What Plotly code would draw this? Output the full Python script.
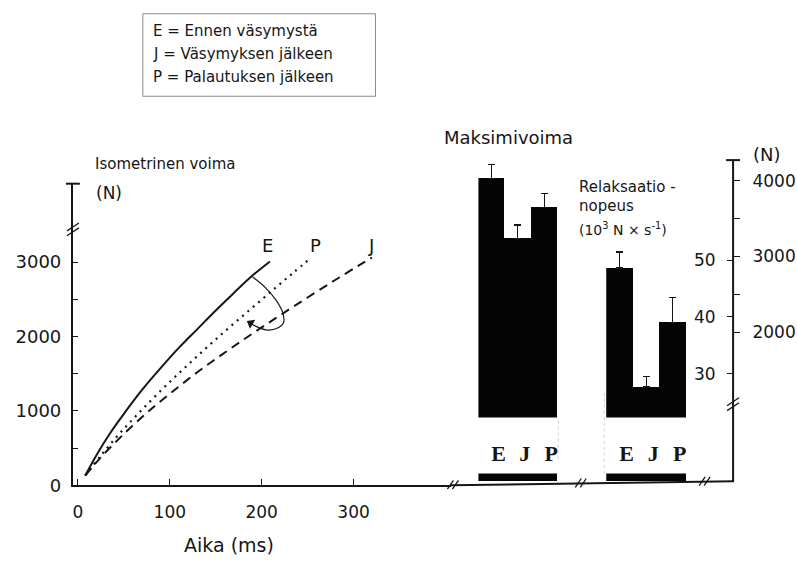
import plotly.graph_objects as go

# ---- data -------------------------------------------------------------
# Isometric force-time curves (ms, N)
time_E = [8, 20, 35, 50, 70, 90, 110, 130, 150, 170, 190, 209]
force_E = [130, 400, 700, 960, 1285, 1575, 1850, 2100, 2350, 2590, 2820, 3010]
time_P = [8, 25, 45, 65, 90, 115, 140, 165, 190, 215, 235, 253]
force_P = [130, 400, 690, 955, 1270, 1565, 1850, 2125, 2390, 2655, 2865, 3050]
time_J = [8, 25, 50, 75, 100, 130, 160, 190, 220, 250, 280, 305, 320]
force_J = [130, 375, 690, 975, 1230, 1520, 1785, 2040, 2285, 2525, 2760, 2950, 3060]

groups = ["E", "J", "P"]
max_force = [4030, 3235, 3650]          # N
max_force_err = [180, 180, 180]
relax_rate = [48.6, 27.7, 39.1]         # 10^3 N/s
relax_rate_err = [2.8, 1.9, 4.3]

left_ticks = [0, 1000, 2000, 3000]
left_minor = [500, 1500, 2500]
time_ticks = [0, 100, 200, 300]
force_ticks = [2000, 3000, 4000]
force_minor = [2500, 3500]
relax_ticks = [30, 40, 50]

legend_lines = ["E = Ennen väsymystä", "J = Väsymyksen jälkeen", "P = Palautuksen jälkeen"]

# ---- page geometry helpers (pixels -> paper) --------------------------
W, H = 797, 564
def X(px):
    return px / W
def Y(py):
    return 1 - py / H

INK = "#161616"
FONT = "DejaVu Sans"

# left panel scale: 0 ms at px 78, 0.92 px/ms ; 0 N at py 494, 0.0757 px/N
T0, TS = 78, 0.92
F0, FS = 494, 0.0757
def tpx(t):
    return T0 + t * TS
def fpy(f):
    return F0 - f * FS

# right panel scales
def mf_val(py):
    return 4000 - (py - 184) / 77 * 1000
def rr_val(py):
    return 40 - (py - 322.7) / 5.8

fig = go.Figure()

# force-time curves
fig.add_trace(go.Scatter(x=time_E, y=force_E, mode="lines", xaxis="x", yaxis="y",
                         line=dict(color=INK, width=2, shape="spline")))
fig.add_trace(go.Scatter(x=time_P, y=force_P, mode="lines", xaxis="x", yaxis="y",
                         line=dict(color=INK, width=2.2, dash="2px,5px", shape="spline")))
fig.add_trace(go.Scatter(x=time_J, y=force_J, mode="lines", xaxis="x", yaxis="y",
                         line=dict(color=INK, width=2, dash="9px,6px", shape="spline")))

# curved arrow from E towards the later curves, with its head
arc_px = [(253, 282), (265, 292), (276, 305), (283, 318), (284, 328),
          (278, 334), (268, 336), (258, 333), (251, 329)]
arc_t = [(p[0] - T0) / TS for p in arc_px]
arc_f = [(F0 - p[1]) / FS for p in arc_px]
fig.add_trace(go.Scatter(x=arc_t, y=arc_f, mode="lines", xaxis="x", yaxis="y",
                         line=dict(color=INK, width=1.2, shape="spline"), hoverinfo="skip"))
fig.add_trace(go.Scatter(x=[arc_t[-1]], y=[arc_f[-1]], mode="markers", xaxis="x", yaxis="y",
                         marker=dict(symbol="triangle-up", size=9, angle=-60, color=INK),
                         hoverinfo="skip"))

# maximal force bars (upper part above the axis break)
fig.add_trace(go.Bar(x=groups, y=max_force, xaxis="x2", yaxis="y2",
                     marker=dict(color="#050505", line=dict(width=0)),
                     error_y=dict(type="data", symmetric=False, array=max_force_err,
                                  arrayminus=[0, 0, 0], color=INK, thickness=1.2, width=3.5)))
# relaxation rate bars
fig.add_trace(go.Bar(x=groups, y=relax_rate, xaxis="x3", yaxis="y3",
                     marker=dict(color="#050505", line=dict(width=0)),
                     error_y=dict(type="data", symmetric=False, array=relax_rate_err,
                                  arrayminus=[0, 0, 0], color=INK, thickness=1.2, width=3.5)))
# bar bases below the break
fig.add_trace(go.Bar(x=groups, y=max_force, xaxis="x2", yaxis="y4",
                     marker=dict(color="#050505", line=dict(width=0))))
fig.add_trace(go.Bar(x=groups, y=relax_rate, xaxis="x3", yaxis="y5",
                     marker=dict(color="#050505", line=dict(width=0))))

label_font = dict(family="Liberation Serif", size=22, color=INK, weight="bold")
tick_font = dict(family=FONT, size=17, color=INK)
ytick_font = dict(family=FONT, size=18, color=INK)

fig.update_layout(
    width=W, height=H,
    margin=dict(l=0, r=0, t=0, b=0),
    paper_bgcolor="white", plot_bgcolor="rgba(0,0,0,0)",
    showlegend=False,
    barmode="overlay", bargap=0,
    xaxis=dict(domain=[X(73), X(452)], range=[(73 - T0) / TS, (452 - T0) / TS],
               anchor="y", showline=True, linecolor=INK, linewidth=2,
               ticks="inside", ticklen=6, tickwidth=1.2, tickcolor=INK,
               tickvals=time_ticks, tickfont=tick_font, ticklabelstandoff=10,
               showgrid=False, zeroline=False),
    yaxis=dict(domain=[Y(494), Y(187)], range=[0, (494 - 187) / FS],
               anchor="x", showline=True, linecolor=INK, linewidth=2,
               ticks="inside", ticklen=5, tickwidth=1.2, tickcolor=INK,
               tickvals=left_ticks, tickfont=ytick_font,
               minor=dict(tickvals=left_minor, ticks="inside", ticklen=5,
                          tickwidth=1.2, tickcolor=INK, showgrid=False),
               ticklabelstandoff=6, showgrid=False, zeroline=False),
    # maximal force: bars + right-hand force scale
    xaxis2=dict(domain=[X(479), X(558)], range=[-0.5, 2.5], anchor="y2", type="category",
                showline=False, ticks="", showgrid=False, zeroline=False,
                tickfont=label_font, ticklabelshift=7, ticklabelstandoff=21),
    yaxis2=dict(domain=[Y(425), Y(160)], range=[mf_val(425), mf_val(160)],
                anchor="free", position=X(734), side="right",
                showline=False, showgrid=False, zeroline=False,
                ticks="outside", ticklen=6, tickwidth=1.2, tickcolor=INK,
                tickvals=force_ticks, tickfont=tick_font,
                minor=dict(tickvals=force_minor, ticks="outside", ticklen=6,
                           tickwidth=1.2, tickcolor=INK, showgrid=False),
                ticklabelstandoff=9),
    # relaxation rate: bars + left-hand scale on the same axis line
    xaxis3=dict(domain=[X(607), X(687)], range=[-0.5, 2.5], anchor="y3", type="category",
                showline=False, ticks="", showgrid=False, zeroline=False,
                tickfont=label_font, ticklabelshift=7, ticklabelstandoff=21),
    yaxis3=dict(domain=[Y(425), Y(160)], range=[rr_val(425), rr_val(160)],
                anchor="free", position=X(734), side="left",
                showline=False, showgrid=False, zeroline=False,
                ticks="outside", ticklen=6, tickwidth=1.2, tickcolor=INK,
                tickvals=relax_ticks, tickfont=tick_font, ticklabelstandoff=8),
    # short segments below the break
    yaxis4=dict(domain=[Y(490), Y(482)], range=[0, 100], anchor="x2", visible=False),
    yaxis5=dict(domain=[Y(490), Y(482)], range=[0, 2], anchor="x3", visible=False),
)

# ---- decorations: axis lines, caps, breaks, legend box ---------------
shapes = []
def seg(x0, y0, x1, y1, w=1.6, color=INK, dash=None):
    d = dict(type="line", xref="paper", yref="paper",
             x0=X(x0), y0=Y(y0), x1=X(x1), y1=Y(y1),
             line=dict(color=color, width=w))
    if dash:
        d["line"]["dash"] = dash
    shapes.append(d)

# right axis line, caps
seg(734, 163, 734, 490, w=2)
seg(727, 163, 741, 163, w=2)
seg(66, 187, 80, 187, w=2)
# baseline continuing under the bar panels
seg(451, 494, 735, 490, w=2)

def base_y(x):
    return 494 - (x - 451) * 4 / 284

# breaks on the baseline
for bx in (455, 583, 707):
    by = base_y(bx)
    seg(bx - 7, by + 4, bx - 1, by - 5, w=1.3)
    seg(bx - 2, by + 4, bx + 4, by - 5, w=1.3)
# break on the left axis
seg(67, 240, 79, 232, w=1.3)
seg(67, 235, 79, 227, w=1.3)
# break on the right axis
seg(728, 418, 740, 410, w=1.3)
seg(728, 413, 740, 405, w=1.3)

# faint outlines of the label bands
seg(559, 428, 559, 468, w=1, color="#d0d0d0", dash="dot")
seg(605, 400, 605, 486, w=1, color="#d0d0d0", dash="dot")

# legend box
shapes.append(dict(type="rect", xref="paper", yref="paper",
                   x0=X(143), x1=X(376), y0=Y(98), y1=Y(14),
                   line=dict(color="#8a8a8a", width=1)))
fig.update_layout(shapes=shapes)

# ---- texts ------------------------------------------------------------
ann = []
def text(px, py, s, size=17, xanchor="left", font=FONT):
    ann.append(dict(xref="paper", yref="paper", x=X(px), y=Y(py), text=s,
                    showarrow=False, xanchor=xanchor, yanchor="middle",
                    font=dict(family=font, size=size, color=INK)))

for i, line in enumerate(legend_lines):
    text(151, 32 + i * 23, line, size=15)

text(93, 167, "Isometrinen voima", size=15)
text(94, 196, "(N)", size=17)
text(229, 555, "Aika (ms)", size=19, xanchor="center")
text(443, 140, "Maksimivoima", size=18)
text(752, 157, "(N)", size=18)
text(578, 190, "Relaksaatio -", size=15)
text(578, 210, "nopeus", size=15)
text(578, 233, "(10<sup>3</sup> N × s<sup>-1</sup>)", size=14)

# curve end labels
for name, ts, fs, target in (("E", time_E, force_E, (268, 250)),
                             ("P", time_P, force_P, (316, 250)),
                             ("J", time_J, force_J, (371, 250))):
    ex, ey = tpx(ts[-1]), fpy(fs[-1])
    ann.append(dict(xref="x", yref="y", x=ts[-1], y=fs[-1], text=name, showarrow=False,
                    xshift=target[0] - ex, yshift=ey - target[1],
                    font=dict(family=FONT, size=18, color=INK)))

fig.update_layout(annotations=ann)

fig.write_html("out.html")
